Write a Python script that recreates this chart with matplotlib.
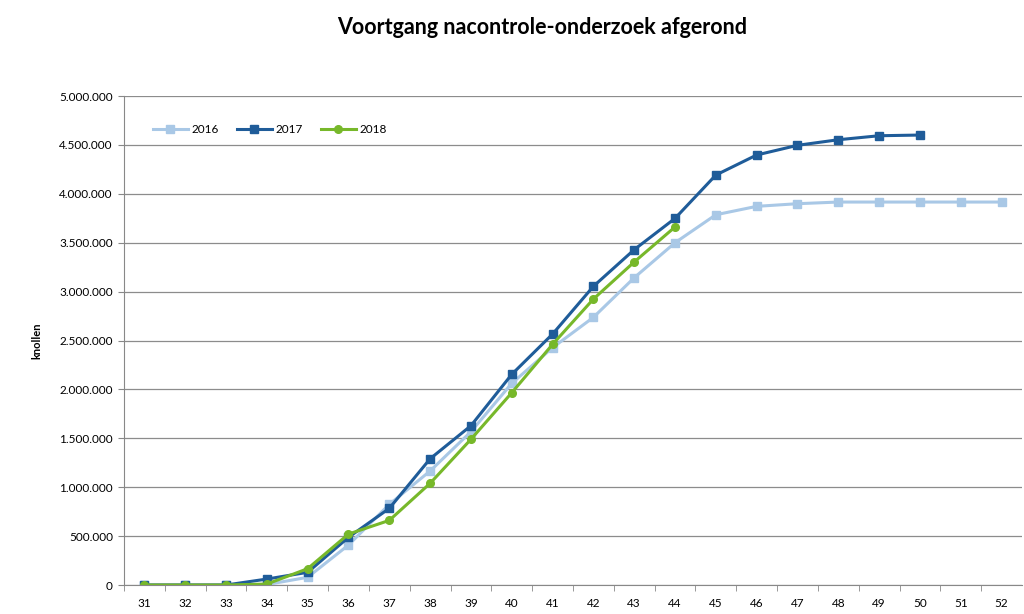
import matplotlib.pyplot as plt
from matplotlib.ticker import FuncFormatter, MultipleLocator

plt.rcParams['font.family'] = ['Lato', 'DejaVu Sans']

weeks = list(range(31, 53))

v2016 = [0, 0, 0, 5000, 79000, 409000, 825000, 1166000, 1568000, 2062000,
         2427000, 2737000, 3142000, 3500000, 3786000, 3872000, 3899000,
         3916000, 3916000, 3916000, 3916000, 3916000]
w2017 = list(range(31, 51))
v2017 = [0, 0, 0, 61000, 130000, 488000, 784000, 1291000, 1629000, 2154000,
         2566000, 3054000, 3429000, 3749000, 4192000, 4397000, 4496000,
         4553000, 4594000, 4601000]
w2018 = list(range(31, 45))
v2018 = [0, 0, 0, 10000, 167000, 521000, 661000, 1040000, 1490000, 1966000,
         2461000, 2924000, 3303000, 3661000]

fig = plt.figure(figsize=(10.24, 6.14), dpi=100)
ax = fig.add_axes([0.1211, 0.0472, 0.8769, 0.7964])

ax.plot(weeks, v2016, color='#a9c8e6', lw=2.2, marker='s', ms=6, label='2016')
ax.plot(w2017, v2017, color='#1f5c99', lw=2.2, marker='s', ms=6, label='2017')
ax.plot(w2018, v2018, color='#77b82a', lw=2.2, marker='o', ms=5.5, label='2018')

ax.set_xlim(30.5, 52.5)
ax.set_ylim(0, 5000000)
ax.yaxis.set_major_locator(MultipleLocator(500000))
ax.yaxis.set_major_formatter(FuncFormatter(lambda v, p: f'{int(v):,}'.replace(',', '.')))
ax.set_xticks(weeks)
ax.set_xticks([w + 0.5 for w in weeks[:-1]] + [30.5], minor=True)
ax.tick_params(axis='x', which='major', length=0, labelsize=8.5, pad=9)
ax.tick_params(axis='x', which='minor', length=4, color='#888888', direction='out')
ax.tick_params(axis='y', length=4, color='#888888', labelsize=8.5, pad=4)
ax.grid(axis='y', color='#8c8c8c', lw=0.9)
ax.set_axisbelow(True)
for s in ['top', 'right']:
    ax.spines[s].set_visible(False)
ax.spines['left'].set_color('#888888')
ax.spines['bottom'].set_color('#888888')

ax.set_ylabel('knollen', fontsize=8, fontweight='bold', labelpad=12)
fig.text(0.529, 0.956, 'Voortgang nacontrole-onderzoek afgerond', fontsize=15.5,
         fontweight='bold', ha='center', va='center')

ax.legend(loc='upper left', bbox_to_anchor=(0.02, 0.965), ncol=3, frameon=False,
          fontsize=8.5, handlelength=3, columnspacing=1.5, handletextpad=0.3)

fig.savefig('out.png', dpi=100)
